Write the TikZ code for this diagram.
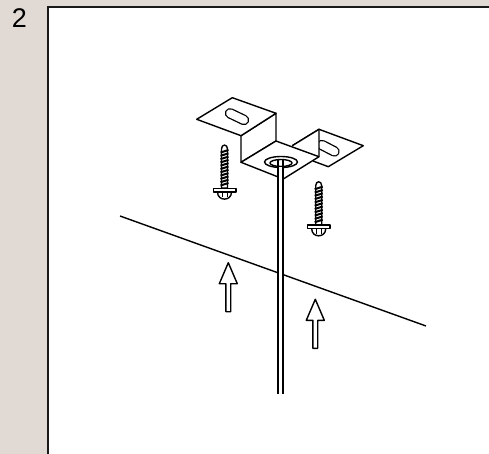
\documentclass[tikz,border=0pt]{standalone}
\usepackage{fontspec}
\setmainfont{Liberation Sans}
\definecolor{panelbg}{HTML}{E1D9D3}
\newcommand{\Screw}[2]{%
    \begin{scope}[shift={(#1,#2)}]
        \draw[part,fill=white] (-3,43) -- (-3,4) .. controls (-3,-1.2) and (3,-1.2) .. (3,4) -- (3,43) -- cycle;
        \foreach \k in {0,...,10}
            \draw[thread] (-4,7.5+3.3*\k) -- (4,5+3.3*\k);
        \draw[part,fill=white] (-11.3,43.3) rectangle (11.3,47);
        \draw[part] (-7,47) .. controls (-7,56.5) and (7,56.5) .. (7,47);
        \draw[thin] (-2.2,47) -- (-2.2,52.5) (2.2,47) -- (2.2,52.5);
    \end{scope}}
\newcommand{\UpArrow}[2]{%
    \draw[part,fill=white] (#1,#2) -- ++(9,21) -- ++(-6.6,0) -- ++(0,28) -- ++(-4.8,0)
        -- ++(0,-28) -- ++(-6.6,0) -- cycle;}
\newcommand{\Slot}[2]{%
    \draw[line width=10.5pt,line cap=round] (#1) -- (#2);
    \draw[line width=7.9pt,line cap=round,white] (#1) -- (#2);}

\begin{document}
\begin{tikzpicture}[x=1pt,y=-1pt]
    \tikzstyle{part}=[line width=1.4pt,line join=round]
    \tikzstyle{thread}=[line width=2pt]
    \useasboundingbox (0,0) rectangle (489,454);
    \fill[panelbg] (0,0) rectangle (489,454);
    \fill[white] (48,7) rectangle (489,454);
    \draw[line width=2pt,black!90] (489,7.5) -- (48.3,7.5) -- (48.3,454);
    \node[font=\fontsize{27}{27}\selectfont] (step2) at (19.5,18) {2};
    % ceiling line
    \coordinate (lineL) at (120,216);
    \coordinate (lineR) at (426,326);
    \draw[part] (lineL) -- (lineR);
    % right tab first, the base covers it
    \draw[part,fill=white] (292.3,145.7) -- (319,129.3) -- (363.3,145.7) -- (328.3,166.7) -- (313,161);
    \Slot{322,145}{334.5,151.5}
    \fill[white] (292.3,145.7) -- (319,129.3) -- (319,156.7) -- cycle;
    \draw[part] (292.3,145.7) -- (319,129.3) -- (319,156.7);
    % left tab and web
    \draw[part,fill=white] (241,135.7) -- (276,113.3) -- (276,141) -- (241,162.3) -- cycle;
    \draw[part,fill=white] (196.7,119.3) -- (232.3,97.7) -- (276,113.3) -- (241,135.7) -- cycle;
    \Slot{230,113.3}{244,120}
    % base with the hole
    \draw[part,fill=white] (241,162.3) -- (276,141) -- (319,156.7) -- (283.3,179) -- cycle;
    \draw[part] (281,162) ellipse (16.5 and 5.5);
    \draw[part] (281,163) ellipse (11 and 3.5);
    % rod
    \fill[white] (277.7,167) rectangle (283.3,394);
    \draw[line width=1.9pt] (278.3,160) -- (278.3,394) (282.7,160) -- (282.7,394);
    % screws
    \Screw{224.5}{145}
    \Screw{318.7}{181.7}
    % arrows
    \UpArrow{228.3}{262.7}
    \UpArrow{315.3}{299.3}
\end{tikzpicture}
\end{document}
